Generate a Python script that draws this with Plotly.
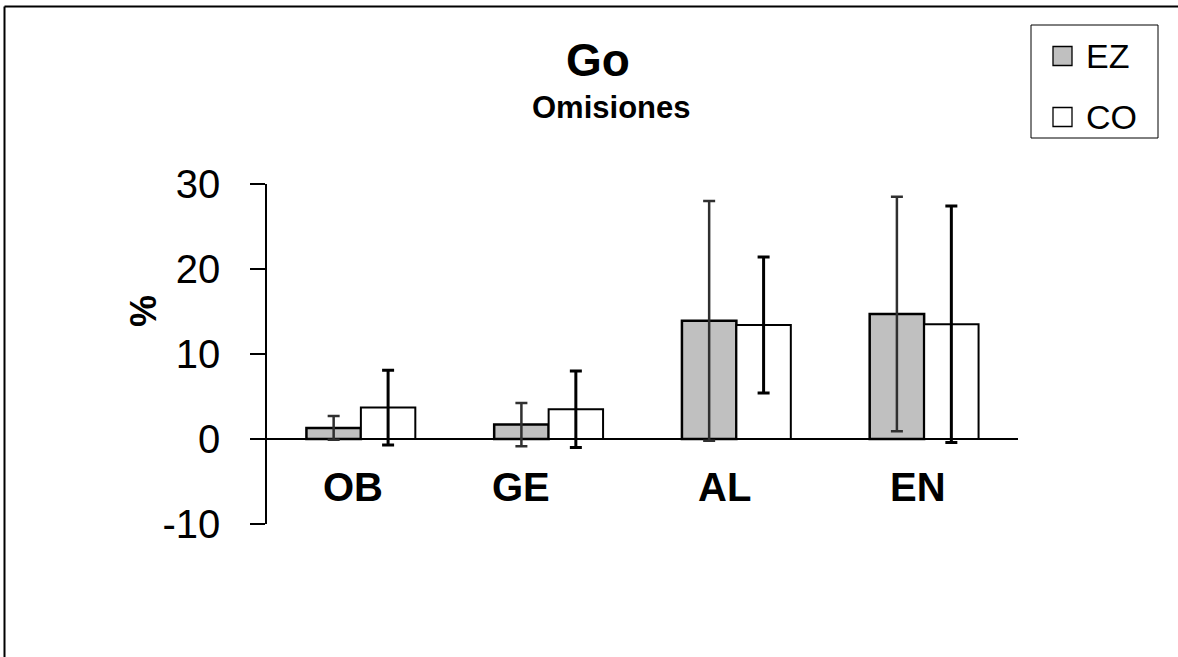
import plotly.graph_objects as go

# Categories and series
categories = ["OB", "GE", "AL", "EN"]
ez_values = [1.3, 1.7, 13.9, 14.7]
ez_errors = [1.4, 2.55, 14.1, 13.8]
co_values = [3.7, 3.5, 13.4, 13.5]
co_errors = [4.4, 4.5, 8.0, 13.9]
y_ticks = [-10, 0, 10, 20, 30]
y_tick_text = ["-10", "0", "10", "20", "30"]

W, H = 1178, 657
L, R, T, B = 267, 1018, 184, 524  # plot area in pixels


def px(x):
    return (x - L) / (R - L)


def py(y):
    return (B - y) / (B - T)


FONT = "Liberation Sans, Arial, sans-serif"

fig = go.Figure()
fig.add_trace(go.Bar(
    name="EZ", x=categories, y=ez_values,
    marker=dict(color="#C0C0C0", line=dict(color="black", width=2.5)),
    error_y=dict(type="data", array=ez_errors, visible=True,
                 color="#303030", thickness=2.5, width=6),
))
fig.add_trace(go.Bar(
    name="CO", x=categories, y=co_values,
    marker=dict(color="white", line=dict(color="black", width=2)),
    error_y=dict(type="data", array=co_errors, visible=True,
                 color="black", thickness=3, width=6),
))

fig.update_layout(
    width=W, height=H,
    margin=dict(l=L, r=W - R, t=T, b=H - B, pad=0),
    paper_bgcolor="white", plot_bgcolor="white",
    barmode="group", bargap=0.42, bargroupgap=0,
    showlegend=False,
    font=dict(family=FONT, color="black"),
)
fig.update_xaxes(showticklabels=False, showline=False, showgrid=False,
                 zeroline=False, ticks="")
fig.update_yaxes(range=[-10, 30], tickvals=y_ticks, ticktext=y_tick_text,
                 showgrid=False,
                 showline=True, linecolor="black", linewidth=1.5,
                 ticks="outside", ticklen=15, tickwidth=1.5, tickcolor="black",
                 tickfont=dict(size=40, family=FONT, color="black"),
                 ticklabelstandoff=22,
                 zeroline=True, zerolinecolor="black", zerolinewidth=2)

# Category labels under the groups
label_pos = {"OB": 353, "GE": 521, "AL": 724, "EN": 918}
for c in categories:
    fig.add_annotation(x=px(label_pos[c]), y=py(487), xref="paper", yref="paper",
                       text=f"<b>{c}</b>", showarrow=False,
                       font=dict(size=40, family=FONT, color="black"),
                       xanchor="center", yanchor="middle")

# Titles
fig.add_annotation(x=px(598), y=py(60), xref="paper", yref="paper",
                   text="<b>Go</b>", showarrow=False,
                   font=dict(size=46, family=FONT), xanchor="center", yanchor="middle")
fig.add_annotation(x=px(611), y=py(108), xref="paper", yref="paper",
                   text="<b>Omisiones</b>", showarrow=False,
                   font=dict(size=31, family=FONT), xanchor="center", yanchor="middle")
fig.add_annotation(x=px(143), y=py(311), xref="paper", yref="paper",
                   text="<b>%</b>", showarrow=False, textangle=-90,
                   font=dict(size=36, family=FONT), xanchor="center", yanchor="middle")

# Frame lines (top and left)
fig.add_shape(type="line", xref="paper", yref="paper",
              x0=px(4.5), x1=px(W + 5), y0=py(6.5), y1=py(6.5),
              line=dict(color="black", width=2))
fig.add_shape(type="line", xref="paper", yref="paper",
              x0=px(4.5), x1=px(4.5), y0=py(6.5), y1=py(H + 5),
              line=dict(color="black", width=2))

# Legend box
fig.add_shape(type="rect", xref="paper", yref="paper",
              x0=px(1031), x1=px(1158), y0=py(25), y1=py(138),
              line=dict(color="black", width=1), fillcolor="white")
legend_items = [("EZ", "#C0C0C0", 56), ("CO", "white", 117)]
for name, color, cy in legend_items:
    fig.add_shape(type="rect", xref="paper", yref="paper",
                  x0=px(1053), x1=px(1072), y0=py(cy - 9.5), y1=py(cy + 9.5),
                  line=dict(color="black", width=1.3), fillcolor=color)
    fig.add_annotation(x=px(1084), y=py(cy), xref="paper", yref="paper",
                       text=name, showarrow=False,
                       font=dict(size=34, family=FONT, color="black"),
                       xanchor="left", yanchor="middle")

fig.write_html("out.html")
